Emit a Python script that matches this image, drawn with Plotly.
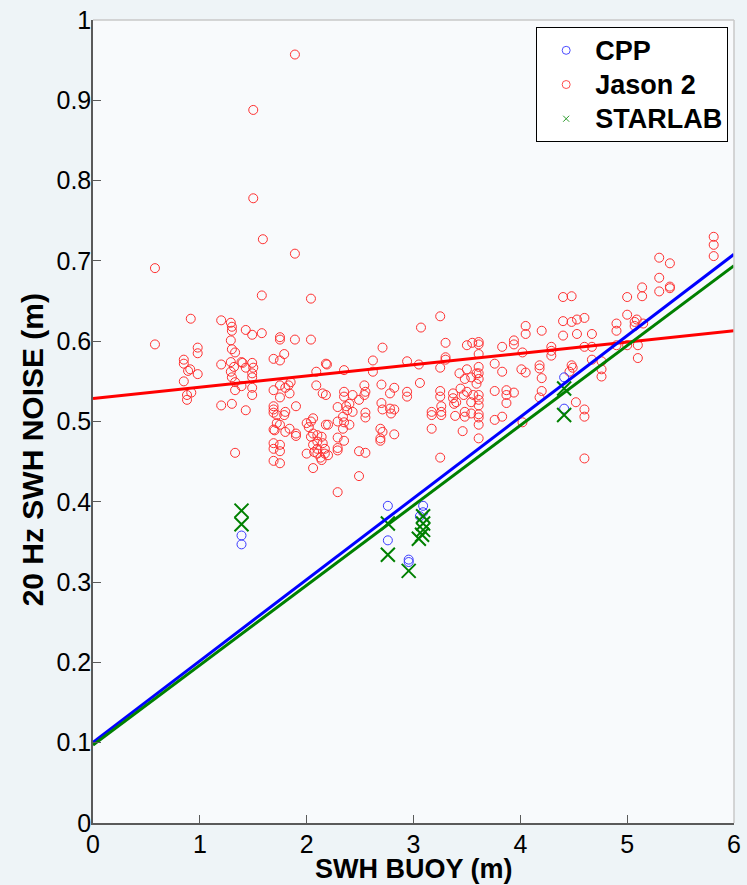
import numpy as np
import plotly.graph_objects as go

# Jason 2 20 Hz SWH noise against buoy SWH
jason2_x = [
    0.58, 0.58, 0.915, 0.98, 0.98, 0.85, 0.85, 0.91, 0.89, 0.98,
    0.85, 0.92, 0.88, 0.88, 1.20, 1.29, 1.30, 1.30, 1.29, 1.30,
    1.33, 1.20, 1.29, 1.32, 1.39, 1.40, 1.29, 1.30, 1.33, 1.33,
    1.39, 1.43, 1.49, 1.50, 1.49, 1.49, 1.49, 1.49, 1.20, 1.30,
    1.43, 1.33, 1.43, 1.49, 1.58, 1.58, 1.50, 1.50, 1.59, 1.89,
    1.89, 2.04, 1.69, 1.75, 1.79, 1.75, 1.75, 1.89, 2.04, 1.69,
    1.75, 1.80, 1.83, 1.85, 1.75, 1.84, 1.69, 1.69, 1.69, 1.72,
    1.80, 1.79, 1.90, 1.72, 1.75, 1.69, 1.70, 1.80, 1.84, 1.90,
    1.90, 1.69, 1.69, 1.75, 1.75, 1.69, 1.75, 2.00, 2.02, 2.06,
    2.04, 2.06, 2.04, 2.10, 2.14, 2.10, 2.15, 2.06, 2.10, 2.17,
    2.00, 2.07, 2.10, 2.13, 2.14, 2.06, 2.17, 2.09, 2.09, 2.15,
    2.18, 2.18, 2.18, 2.71, 3.30, 3.50, 3.55, 2.62, 2.94, 2.19,
    2.35, 3.05, 3.30, 3.25, 3.50, 2.62, 3.43, 3.48, 3.54, 3.59,
    2.35, 2.43, 2.35, 2.54, 2.55, 2.54, 2.70, 2.82, 2.78, 2.94,
    2.94, 3.06, 3.25, 3.25, 3.26, 3.37, 3.37, 3.40, 3.38, 3.47,
    3.44, 3.50, 3.54, 3.56, 2.49, 2.40, 2.37, 2.38, 2.43, 2.29,
    2.34, 2.70, 2.71, 2.78, 2.79, 2.82, 2.55, 2.55, 3.17, 3.17,
    3.26, 3.26, 3.39, 3.48, 3.48, 3.54, 2.20, 2.29, 2.35, 2.40,
    2.34, 2.69, 2.71, 2.69, 2.69, 2.82, 3.17, 3.46, 2.20, 2.29,
    2.35, 2.29, 2.29, 2.49, 2.55, 3.25, 2.49, 2.29, 3.25, 3.07,
    3.30, 3.61, 3.61, 3.83, 3.94, 3.94, 4.05, 4.05, 4.20, 4.02,
    4.29, 4.29, 4.29, 4.40, 4.53, 4.60, 4.67, 4.67, 3.61, 3.61,
    3.61, 3.61, 3.59, 3.76, 3.83, 4.01, 4.05, 4.18, 4.18, 4.20,
    4.48, 4.49, 4.46, 4.67, 4.76, 4.76, 4.76, 3.61, 3.61, 3.61,
    3.61, 3.61, 3.61, 3.76, 3.87, 3.87, 3.94, 3.87, 3.76, 3.83,
    4.20, 4.18, 3.61, 4.02, 4.52, 4.60, 4.60, 4.60, 4.40, 4.48,
    4.40, 4.48, 4.53, 4.60, 5.81, 5.81, 5.81, 5.30, 5.40, 5.30,
    5.30, 5.40, 5.40, 5.00, 5.14, 5.14, 5.00, 4.90, 4.90, 5.07,
    5.09, 5.07, 5.15, 4.90, 5.00, 5.10, 5.10,
]
jason2_y = [
    0.691, 0.596, 0.628, 0.592, 0.585, 0.577, 0.572, 0.565, 0.563, 0.559,
    0.550, 0.536, 0.533, 0.527, 0.626, 0.623, 0.618, 0.613, 0.601, 0.590,
    0.586, 0.571, 0.574, 0.568, 0.574, 0.573, 0.562, 0.555, 0.549, 0.539,
    0.544, 0.567, 0.573, 0.567, 0.560, 0.555, 0.542, 0.533, 0.520, 0.522,
    0.514, 0.461, 0.614, 0.608, 0.610, 0.657, 0.888, 0.778, 0.727, 0.957,
    0.709, 0.653, 0.578, 0.576, 0.584, 0.605, 0.602, 0.602, 0.602, 0.539,
    0.545, 0.542, 0.545, 0.549, 0.530, 0.535, 0.519, 0.515, 0.511, 0.508,
    0.512, 0.508, 0.519, 0.498, 0.496, 0.490, 0.489, 0.487, 0.491, 0.485,
    0.482, 0.473, 0.466, 0.471, 0.463, 0.451, 0.448, 0.498, 0.493, 0.504,
    0.500, 0.485, 0.481, 0.483, 0.481, 0.475, 0.473, 0.471, 0.466, 0.466,
    0.460, 0.462, 0.460, 0.455, 0.452, 0.442, 0.460, 0.562, 0.545, 0.535,
    0.533, 0.572, 0.496, 0.592, 0.598, 0.595, 0.598, 0.576, 0.575, 0.571,
    0.564, 0.571, 0.580, 0.567, 0.565, 0.562, 0.560, 0.553, 0.555, 0.560,
    0.537, 0.533, 0.531, 0.545, 0.537, 0.533, 0.546, 0.542, 0.535, 0.537,
    0.531, 0.548, 0.538, 0.531, 0.519, 0.535, 0.529, 0.524, 0.522, 0.533,
    0.541, 0.537, 0.524, 0.533, 0.527, 0.522, 0.519, 0.514, 0.512, 0.518,
    0.506, 0.523, 0.515, 0.516, 0.510, 0.515, 0.511, 0.505, 0.512, 0.508,
    0.512, 0.508, 0.507, 0.512, 0.506, 0.510, 0.496, 0.500, 0.499, 0.496,
    0.491, 0.491, 0.487, 0.479, 0.476, 0.484, 0.491, 0.488, 0.458, 0.480,
    0.476, 0.467, 0.464, 0.463, 0.461, 0.455, 0.432, 0.412, 0.631, 0.617,
    0.577, 0.599, 0.596, 0.593, 0.601, 0.596, 0.609, 0.619, 0.613, 0.586,
    0.593, 0.588, 0.582, 0.607, 0.609, 0.593, 0.593, 0.609, 0.584, 0.568,
    0.560, 0.553, 0.547, 0.572, 0.562, 0.565, 0.561, 0.570, 0.566, 0.554,
    0.570, 0.567, 0.562, 0.577, 0.575, 0.565, 0.556, 0.533, 0.527, 0.520,
    0.509, 0.505, 0.496, 0.538, 0.539, 0.533, 0.536, 0.523, 0.502, 0.506,
    0.538, 0.530, 0.479, 0.499, 0.524, 0.515, 0.506, 0.454, 0.655, 0.656,
    0.625, 0.624, 0.627, 0.629, 0.730, 0.720, 0.706, 0.704, 0.697, 0.679,
    0.662, 0.668, 0.666, 0.655, 0.667, 0.656, 0.633, 0.622, 0.613, 0.624,
    0.627, 0.619, 0.622, 0.595, 0.595, 0.595, 0.579,
]

# CPP processing
cpp_x = [1.39, 1.39, 2.76, 2.76, 2.955, 2.955, 3.06, 3.09, 3.09, 4.41, 4.41]
cpp_y = [0.358, 0.347, 0.395, 0.352, 0.328, 0.325, 0.382, 0.395, 0.387, 0.555, 0.516]

# STARLAB processing
starlab_x = [1.39, 1.39, 2.76, 2.76, 2.955, 3.05, 3.08, 3.09, 3.09, 3.09, 4.41, 4.41]
starlab_y = [0.389, 0.372, 0.373, 0.334, 0.314, 0.354, 0.359, 0.365, 0.373, 0.382, 0.541, 0.508]

# Linear fits (slope, intercept) drawn over the buoy SWH range
fit_x = [0, 6]
jason2_fit = [0.01408, 0.5285]
cpp_fit = [0.1013, 0.1005]
starlab_fit = [0.0995, 0.0970]

RED = "#ff0000"
BLUE = "#0000ff"
GREEN = "#008000"
SANS = "Liberation Sans, Arial, sans-serif"
TICK_FONT = dict(family=SANS, size=25, color="black")


def legend_label(text):
    # larger glyphs than the legend's nominal size keep the rows compact
    return "<span style='font-size:27px'>%s</span>" % text


fig = go.Figure()

fig.add_trace(go.Scatter(
    x=jason2_x, y=jason2_y, mode="markers", showlegend=False,
    marker=dict(symbol="circle-open", size=9, color="#ff3030", line=dict(width=1)),
))
fig.add_trace(go.Scatter(
    x=cpp_x, y=cpp_y, mode="markers", showlegend=False,
    marker=dict(symbol="circle-open", size=9, color="#3a3aff", line=dict(width=1)),
))
fig.add_trace(go.Scatter(
    x=starlab_x, y=starlab_y, mode="markers", showlegend=False,
    marker=dict(symbol="x-thin-open", size=14, color=GREEN, line=dict(width=2, color=GREEN)),
))

for coef, col in [(jason2_fit, RED), (cpp_fit, BLUE), (starlab_fit, GREEN)]:
    fig.add_trace(go.Scatter(
        x=fit_x, y=np.polyval(coef, fit_x), mode="lines", showlegend=False,
        line=dict(color=col, width=3), hoverinfo="skip",
    ))

# Legend entries with compact symbols
fig.add_trace(go.Scatter(
    x=[None], y=[None], mode="markers", name=legend_label("CPP"),
    marker=dict(symbol="circle-open", size=8, color="#4d4dff", line=dict(width=1)),
))
fig.add_trace(go.Scatter(
    x=[None], y=[None], mode="markers", name=legend_label("Jason 2"),
    marker=dict(symbol="circle-open", size=8, color="#ff4d4d", line=dict(width=1)),
))
fig.add_trace(go.Scatter(
    x=[None], y=[None], mode="markers", name=legend_label("STARLAB"),
    marker=dict(symbol="x-thin-open", size=6, color="#2a9a2a", line=dict(width=1, color="#2a9a2a")),
))

axis_common = dict(
    showgrid=False, zeroline=False, showline=True, linecolor="#5a5a5a", linewidth=1.5,
    ticks="inside", ticklen=8, tickwidth=1, tickcolor="#5a5a5a", tickfont=TICK_FONT,
    ticklabeloverflow="allow",
)

xtitle_font = dict(family=SANS, size=27, color="black", weight="bold")
ytitle_font = dict(family=SANS, size=30, color="black", weight="bold")

fig.update_layout(
    width=747, height=885,
    margin=dict(l=93, r=6, t=16, b=62),
    paper_bgcolor="#eef4f7",
    plot_bgcolor="#f8fafc",
    xaxis=dict(range=[0, 6], dtick=1, tick0=0, ticklabelstandoff=-2, **axis_common),
    yaxis=dict(range=[0, 1], dtick=0.1, tick0=0, ticklabelstandoff=-5, **axis_common),
    legend=dict(
        x=0.6914, y=0.991, xanchor="left", yanchor="top",
        bgcolor="white", bordercolor="black", borderwidth=1,
        font=dict(family=SANS, size=24, color="black", weight="bold"),
        itemwidth=48, entrywidth=142,
    ),
    annotations=[
        dict(text="SWH BUOY (m)", xref="paper", yref="paper", x=0.5, y=-0.0574,
             xanchor="center", yanchor="middle", showarrow=False, font=xtitle_font),
        dict(text="20 Hz SWH NOISE (m)", xref="paper", yref="paper", x=-0.094, y=0.465,
             xanchor="center", yanchor="middle", textangle=-90, showarrow=False, font=ytitle_font),
    ],
    shapes=[
        dict(type="line", xref="paper", yref="paper", x0=0, x1=1, y0=1, y1=1,
             line=dict(color="#c8c8c8", width=1.5)),
        dict(type="line", xref="paper", yref="paper", x0=1, x1=1, y0=0, y1=1,
             line=dict(color="#c8c8c8", width=1.5)),
    ],
)

fig.write_html("out.html")
